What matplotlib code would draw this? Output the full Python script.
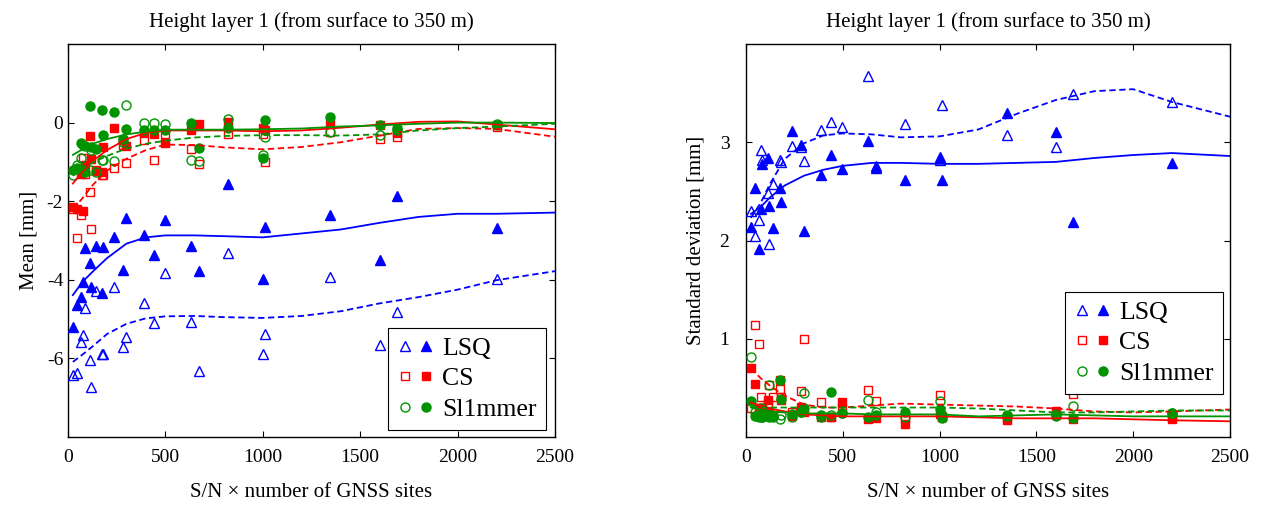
import matplotlib
matplotlib.use("Agg")
import matplotlib.pyplot as plt
from matplotlib.legend_handler import HandlerTuple
from matplotlib.lines import Line2D

plt.rcParams['font.family'] = ['Liberation Serif', 'DejaVu Serif']
plt.rcParams['axes.unicode_minus'] = False

# ---------------- data ----------------
X = [25, 45, 68, 75, 85, 112, 120, 142, 176, 181, 238, 283, 300, 388, 440,
     497, 631, 671, 820, 1000, 1012, 1347, 1600, 1688, 2200]

# Mean (left panel)
lsq_full_mean = [-5.2, -4.65, -4.44, -4.05, -3.2, -3.56, -4.18, -3.14, -4.33, -3.16,
                 -2.91, -3.74, -2.44, -2.87, -3.37, -2.49, -3.14, -3.77, -1.55, -3.97,
                 -2.65, -2.36, -3.5, -1.87, -2.68]
lsq_open_mean = [-6.43, -6.37, -5.58, -5.41, -4.73, -6.05, -6.74, -4.28, -5.89, -5.89,
                 -4.18, -5.71, -5.45, -4.58, -5.11, -3.82, -5.07, -6.32, -3.33, -5.88,
                 -5.37, -3.93, -5.67, -4.83, -3.99]
cs_full_mean = [-2.15, -2.21, -1.32, -2.25, -1.09, -0.35, -0.92, -1.23, -1.25, -0.62,
                -0.15, -0.45, -0.6, -0.26, -0.28, -0.53, -0.19, -0.04, 0.02, -0.13,
                -0.2, -0.01, -0.07, -0.26, -0.07]
cs_open_mean = [-2.2, -2.93, -2.36, -0.89, -1.3, -1.76, -2.72, -1.2, -1.34, -1.34,
                -1.15, -0.58, -1.04, -0.45, -0.96, -0.28, -0.68, -1.06, -0.28, -0.28,
                -1.0, -0.24, -0.41, -0.36, -0.1]
sl_full_mean = [-1.21, -1.15, -0.52, -0.58, -1.25, 0.42, -0.62, -0.66, 0.31, -0.32,
                0.27, -0.42, -0.17, -0.19, -0.19, -0.2, -0.01, -0.64, -0.15, -0.89,
                0.06, 0.14, -0.07, -0.15, -0.05]
sl_open_mean = [-1.34, -1.09, -0.9, -1.2, -0.6, -1.2, -0.7, -1.26, -0.94, -0.94,
                -0.98, -0.49, 0.44, 0.0, 0.0, -0.04, -0.96, -0.98, 0.10, -0.83,
                -0.36, -0.24, -0.32, -0.2, -0.04]

# Standard deviation (right panel)
lsq_full_std = [2.14, 2.53, 1.91, 2.32, 2.78, 2.84, 2.35, 2.13, 2.53, 2.39,
                3.11, 2.97, 2.10, 2.67, 2.87, 2.73, 3.01, 2.74, 2.62, 2.85,
                2.62, 3.30, 3.10, 2.19, 2.79]
lsq_open_std = [2.30, 2.05, 2.21, 2.92, 2.82, 2.48, 1.96, 2.57, 2.82, 2.80,
                2.96, 2.95, 2.81, 3.12, 3.21, 3.16, 3.67, 2.76, 3.19, 2.82,
                3.38, 3.07, 2.95, 3.49, 3.41]
cs_full_std = [0.70, 0.54, 0.30, 0.30, 0.25, 0.38, 0.25, 0.22, 0.58, 0.38,
               0.21, 0.31, 0.25, 0.20, 0.20, 0.36, 0.18, 0.19, 0.13, 0.23,
               0.20, 0.17, 0.26, 0.18, 0.18]
cs_open_std = [0.30, 1.14, 0.95, 0.41, 0.30, 0.35, 0.53, 0.41, 0.49, 0.41,
               0.25, 0.47, 1.00, 0.36, 0.20, 0.30, 0.48, 0.37, 0.18, 0.43,
               0.20, 0.20, 0.22, 0.44, 0.20]
sl_full_std = [0.37, 0.21, 0.20, 0.21, 0.20, 0.21, 0.20, 0.21, 0.58, 0.39,
               0.23, 0.25, 0.30, 0.22, 0.46, 0.24, 0.20, 0.22, 0.25, 0.28,
               0.19, 0.21, 0.21, 0.19, 0.24]
sl_open_std = [0.81, 0.25, 0.22, 0.30, 0.20, 0.22, 0.53, 0.20, 0.18, 0.22,
               0.20, 0.25, 0.45, 0.20, 0.22, 0.24, 0.38, 0.25, 0.20, 0.37,
               0.22, 0.22, 0.23, 0.32, 0.24]

# Fitted curves (read at CX)
CX = [25, 75, 125, 200, 300, 400, 500, 650, 800, 1000, 1200, 1400, 1600, 1800,
      2000, 2200, 2500]
lsq_full_mean_fit = [-4.39, -4.05, -3.8, -3.45, -3.08, -2.92, -2.87, -2.87, -2.89, -2.92,
                     -2.82, -2.72, -2.55, -2.4, -2.32, -2.32, -2.29]
lsq_open_mean_fit = [-6.09, -5.9, -5.7, -5.38, -5.12, -4.98, -4.93, -4.92, -4.95, -4.97,
                     -4.92, -4.8, -4.6, -4.44, -4.25, -4.01, -3.78]
sl_full_mean_fit = [-0.82, -0.68, -0.54, -0.42, -0.3, -0.23, -0.18, -0.18, -0.18, -0.17,
                    -0.15, -0.1, -0.07, -0.03, 0.0, 0.0, -0.01]
cs_full_mean_fit = [-1.55, -1.25, -0.98, -0.7, -0.42, -0.26, -0.2, -0.2, -0.2, -0.22,
                    -0.2, -0.13, -0.05, 0.02, 0.03, -0.05, -0.17]
sl_open_mean_fit = [-1.35, -1.18, -1.02, -0.85, -0.66, -0.54, -0.46, -0.38, -0.34, -0.32,
                    -0.32, -0.33, -0.3, -0.2, -0.14, -0.1, -0.03]
cs_open_mean_fit = [-2.2, -1.92, -1.6, -1.22, -0.92, -0.7, -0.56, -0.57, -0.63, -0.68,
                    -0.62, -0.5, -0.33, -0.16, -0.14, -0.16, -0.36]

lsq_full_std_fit = [2.27, 2.34, 2.44, 2.56, 2.66, 2.72, 2.76, 2.79, 2.79, 2.78,
                    2.78, 2.79, 2.80, 2.84, 2.87, 2.89, 2.86]
lsq_open_std_fit = [2.23, 2.38, 2.58, 2.83, 2.99, 3.07, 3.09, 3.08, 3.05, 3.06,
                    3.13, 3.29, 3.43, 3.52, 3.54, 3.41, 3.26]
cs_full_std_fit = [0.35, 0.32, 0.29, 0.26, 0.23, 0.22, 0.21, 0.21, 0.21, 0.21,
                   0.20, 0.19, 0.19, 0.19, 0.18, 0.17, 0.16]
sl_full_std_fit = [0.30, 0.28, 0.26, 0.25, 0.24, 0.24, 0.24, 0.23, 0.23, 0.23,
                   0.21, 0.22, 0.23, 0.22, 0.21, 0.21, 0.21]
cs_open_std_fit = [0.70, 0.60, 0.52, 0.42, 0.33, 0.30, 0.30, 0.32, 0.34, 0.33,
                   0.32, 0.31, 0.29, 0.26, 0.25, 0.26, 0.28]
sl_open_std_fit = [0.31, 0.30, 0.30, 0.30, 0.30, 0.30, 0.30, 0.30, 0.30, 0.30,
                   0.29, 0.27, 0.25, 0.25, 0.26, 0.27, 0.27]

method_names = ['LSQ', 'CS', 'Sl1mmer']
title_text = 'Height layer 1 (from surface to 350 m)'
xlabel_text = 'S/N × number of GNSS sites'

# ---------------- styling ----------------
BLUE, RED, GREEN = '#0000ff', '#ff0000', '#009400'
MARK = {'LSQ': ('^', BLUE, 7.5), 'CS': ('s', RED, 6.0), 'Sl1mmer': ('o', GREEN, 6.5)}

fig = plt.figure(figsize=(12.65, 5.05), dpi=100)
axL = fig.add_axes([68 / 1265, 68 / 505, 487 / 1265, 393 / 505])
axR = fig.add_axes([746 / 1265, 68 / 505, 484 / 1265, 393 / 505])


def draw(ax, series, fits):
    for name, (yo, yf) in series.items():
        m, c, s = MARK[name]
        ax.plot(X, yo, linestyle='none', marker=m, markersize=s, markerfacecolor='none',
                markeredgecolor=c, markeredgewidth=1.0, zorder=3)
        ax.plot(X, yf, linestyle='none', marker=m, markersize=s, markerfacecolor=c,
                markeredgecolor=c, markeredgewidth=1.0, zorder=3)
    for name, (fo, ff) in fits.items():
        c = MARK[name][1]
        ax.plot(CX, ff, '-', color=c, lw=1.3, zorder=4)
        ax.plot(CX, fo, '--', color=c, lw=1.3, dashes=(3.5, 2), zorder=4)


draw(axL,
     {'LSQ': (lsq_open_mean, lsq_full_mean), 'CS': (cs_open_mean, cs_full_mean),
      'Sl1mmer': (sl_open_mean, sl_full_mean)},
     {'LSQ': (lsq_open_mean_fit, lsq_full_mean_fit), 'CS': (cs_open_mean_fit, cs_full_mean_fit),
      'Sl1mmer': (sl_open_mean_fit, sl_full_mean_fit)})
draw(axR,
     {'LSQ': (lsq_open_std, lsq_full_std), 'CS': (cs_open_std, cs_full_std),
      'Sl1mmer': (sl_open_std, sl_full_std)},
     {'LSQ': (lsq_open_std_fit, lsq_full_std_fit), 'CS': (cs_open_std_fit, cs_full_std_fit),
      'Sl1mmer': (sl_open_std_fit, sl_full_std_fit)})

axL.set_ylim(-8, 2)
axL.set_yticks([-6, -4, -2, 0])
axL.set_ylabel('Mean [mm]', fontsize=15, labelpad=6)
axR.set_ylim(0, 4)
axR.set_yticks([1, 2, 3])
axR.tick_params(axis='y', pad=12)
axR.set_ylabel('Standard deviation [mm]', fontsize=15, labelpad=10)

legend_anchor = {id(axL): (0.981, 0.278), id(axR): (0.985, 0.370)}

for ax in (axL, axR):
    ax.set_xlim(0, 2500)
    ax.set_xticks([0, 500, 1000, 1500, 2000, 2500])
    ax.tick_params(direction='in', top=True, right=True, labelsize=14, length=4, width=0.8)
    ax.tick_params(axis='x', pad=9)
    ax.set_title(title_text, fontsize=15, pad=12)
    ax.set_xlabel(xlabel_text, fontsize=15, labelpad=12)
    for sp in ax.spines.values():
        sp.set_linewidth(1.0)
    handles = []
    for name in method_names:
        m, c, s = MARK[name]
        ho = Line2D([], [], linestyle='none', marker=m, markersize=s, markerfacecolor='none',
                    markeredgecolor=c, markeredgewidth=1.0)
        hf = Line2D([], [], linestyle='none', marker=m, markersize=s, markerfacecolor=c,
                    markeredgecolor=c)
        handles.append((ho, hf))
    leg = ax.legend(handles, method_names, loc='upper right',
                    bbox_to_anchor=legend_anchor[id(ax)], borderaxespad=0,
                    fontsize=18.5,
                    handler_map={tuple: HandlerTuple(ndivide=None, pad=0.2)},
                    handlelength=1.4, handletextpad=0.35, fancybox=False,
                    edgecolor='black', framealpha=1,
                    labelspacing=0.3, borderpad=0.35)
    leg.get_frame().set_linewidth(0.8)

fig.savefig('out.png', dpi=100)
